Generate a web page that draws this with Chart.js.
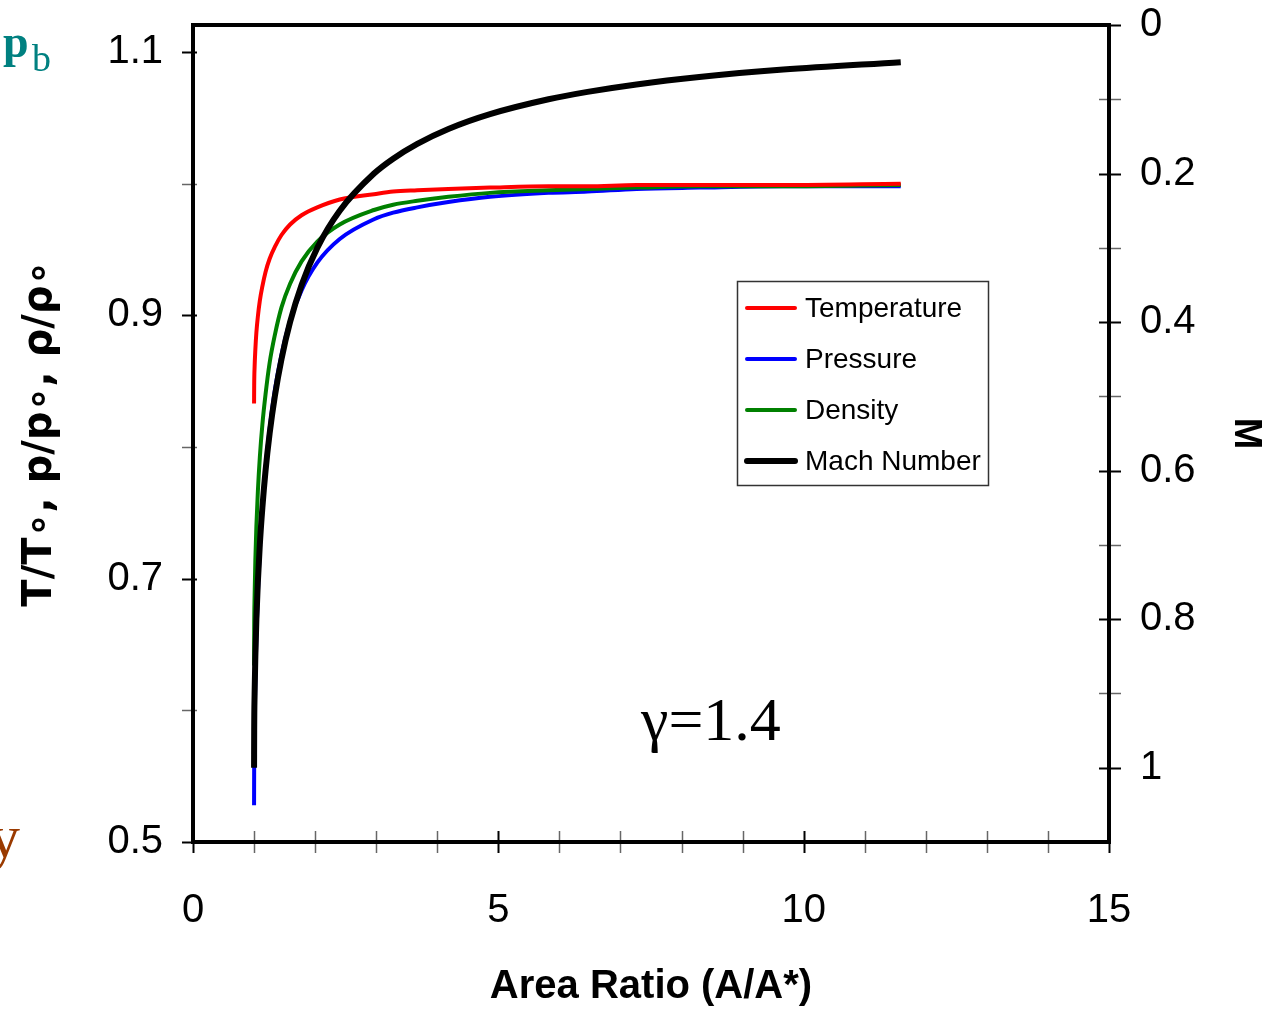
<!DOCTYPE html>
<html>
<head>
<meta charset="utf-8">
<script src="https://cdn.jsdelivr.net/npm/chart.js@4.4.1/dist/chart.umd.min.js"></script>
<style>
  body { margin: 0; background: #fff; }
  canvas { display: block; }
</style>
</head>
<body>
<canvas id="chart" width="1271" height="1011"></canvas>
<script>
// values (subsonic branch, gamma = 1.4)
const areaRatio   = [1.000, 1.002, 1.009, 1.021, 1.038, 1.062, 1.094, 1.136, 1.188, 1.255, 1.340, 1.449, 1.590, 1.778, 2.035, 2.403, 2.964, 3.278, 3.673, 4.182, 4.864, 5.822, 6.461, 7.262, 8.290, 9.666, 11.59];
const machNumber  = [1.00, 0.95, 0.90, 0.85, 0.80, 0.75, 0.70, 0.65, 0.60, 0.55, 0.50, 0.45, 0.40, 0.35, 0.30, 0.25, 0.20, 0.18, 0.16, 0.14, 0.12, 0.10, 0.09, 0.08, 0.07, 0.06, 0.05];
const temperature = [0.833, 0.847, 0.861, 0.874, 0.887, 0.899, 0.911, 0.922, 0.933, 0.943, 0.952, 0.961, 0.969, 0.976, 0.982, 0.988, 0.992, 0.994, 0.995, 0.996, 0.997, 0.998, 0.998, 0.999, 0.999, 0.999, 1.000];
const pressure    = [0.528, 0.560, 0.591, 0.623, 0.656, 0.689, 0.721, 0.753, 0.784, 0.814, 0.843, 0.870, 0.896, 0.919, 0.940, 0.958, 0.973, 0.978, 0.982, 0.986, 0.990, 0.993, 0.994, 0.996, 0.997, 0.998, 0.998];
const density     = [0.634, 0.661, 0.687, 0.714, 0.740, 0.766, 0.792, 0.817, 0.840, 0.864, 0.885, 0.906, 0.924, 0.941, 0.956, 0.969, 0.980, 0.984, 0.987, 0.990, 0.993, 0.995, 0.996, 0.997, 0.998, 0.998, 0.999];

const xTickValues = [0, 1, 2, 3, 4, 5, 6, 7, 8, 9, 10, 11, 12, 13, 14, 15];
const xTickLabels = ['0', '', '', '', '', '5', '', '', '', '', '10', '', '', '', '', '15'];
const leftTickValues = [0.5, 0.6, 0.7, 0.8, 0.9, 1.0, 1.1];
const leftTickLabels = ['0.5', '', '0.7', '', '0.9', '', '1.1'];
const rightTickValues = [0, 0.1, 0.2, 0.3, 0.4, 0.5, 0.6, 0.7, 0.8, 0.9, 1.0];
const rightTickLabels = ['0', '', '0.2', '', '0.4', '', '0.6', '', '0.8', '', '1'];

const FONT = "'Liberation Sans', Arial, sans-serif";
const SERIF = "'Liberation Serif', 'Times New Roman', serif";

function pts(ys) {
  return areaRatio.map((x, i) => ({ x: x, y: ys[i] }));
}

// no extra room for overhanging tick labels: the plot box is fixed
function noPad(s) {
  s.paddingTop = 0; s.paddingBottom = 0; s.paddingLeft = 0; s.paddingRight = 0;
}

// frame, crossing tick marks, legend box and the loose slide texts
const extras = {
  id: 'extras',
  afterDraw(chart) {
    const ctx = chart.ctx;
    const a = chart.chartArea;
    ctx.save();

    // tick marks
    const sx = chart.scales.x, sl = chart.scales.y, sr = chart.scales.yM;
    ctx.lineCap = 'butt';
    sx.ticks.forEach((t, i) => {
      const px = Math.round(sx.getPixelForValue(t.value)) + 0.5;
      const major = xTickLabels[i] !== '';
      ctx.strokeStyle = major ? '#000' : '#666';
      ctx.lineWidth = major ? 2 : 1.5;
      ctx.beginPath(); ctx.moveTo(px, a.bottom - 11); ctx.lineTo(px, a.bottom + 11); ctx.stroke();
    });
    sl.ticks.forEach((t, i) => {
      const py = Math.round(sl.getPixelForValue(t.value)) + 0.5;
      const major = leftTickLabels[i] !== '';
      ctx.strokeStyle = major ? '#000' : '#666';
      ctx.lineWidth = major ? 2 : 1.5;
      ctx.beginPath(); ctx.moveTo(a.left - 11, py); ctx.lineTo(a.left + 4, py); ctx.stroke();
    });
    sr.ticks.forEach((t, i) => {
      const py = Math.round(sr.getPixelForValue(t.value)) + 0.5;
      const major = rightTickLabels[i] !== '';
      ctx.strokeStyle = major ? '#000' : '#666';
      ctx.lineWidth = major ? 2 : 1.5;
      ctx.beginPath(); ctx.moveTo(a.right - 10, py); ctx.lineTo(a.right + 12, py); ctx.stroke();
    });

    // plot frame
    ctx.strokeStyle = '#000';
    ctx.lineWidth = 4;
    ctx.strokeRect(a.left, a.top, a.right - a.left, a.bottom - a.top);

    // legend
    const lx = 737, ly = 281, lw = 251, lh = 204;
    ctx.fillStyle = '#fff';
    ctx.fillRect(lx, ly, lw, lh);
    ctx.strokeStyle = '#333';
    ctx.lineWidth = 1.5;
    ctx.strokeRect(lx + 0.5, ly + 0.5, lw, lh);
    ctx.font = '28px ' + FONT;
    ctx.textBaseline = 'middle';
    ctx.textAlign = 'left';
    chart.data.datasets.forEach((ds, i) => {
      const y = ly + 27 + i * 51;
      ctx.strokeStyle = ds.borderColor;
      ctx.lineWidth = ds.borderWidth;
      ctx.lineCap = 'round';
      ctx.beginPath(); ctx.moveTo(lx + 10, y); ctx.lineTo(lx + 58, y); ctx.stroke();
      ctx.fillStyle = '#000';
      ctx.fillText(ds.label, lx + 68, y + 1);
    });

    // gamma note
    ctx.fillStyle = '#000';
    ctx.textBaseline = 'alphabetic';
    ctx.font = '62px ' + SERIF;
    ctx.fillText('\u03b3=1.4', 641, 740);

    // slide fragments at the left edge
    ctx.fillStyle = '#008080';
    ctx.font = 'bold 46px ' + SERIF;
    ctx.fillText('p', 3, 57);
    ctx.font = '38px ' + SERIF;
    ctx.fillText('b', 32, 71);
    ctx.fillStyle = '#9a3a00';
    ctx.font = '62px ' + SERIF;
    ctx.fillText('y', -11, 857);

    ctx.restore();
  }
};

const chart = new Chart(document.getElementById('chart').getContext('2d'), {
  type: 'line',
  data: {
    datasets: [
      { label: 'Temperature', data: pts(temperature), borderColor: '#ff0000', borderWidth: 4, yAxisID: 'y', order: 1 },
      { label: 'Pressure', data: pts(pressure), borderColor: '#0000ff', borderWidth: 4, yAxisID: 'y', order: 3 },
      { label: 'Density', data: pts(density), borderColor: '#008000', borderWidth: 4, yAxisID: 'y', order: 2 },
      { label: 'Mach Number', data: pts(machNumber), borderColor: '#000000', borderWidth: 6, yAxisID: 'yM', order: 0 }
    ]
  },
  options: {
    responsive: false,
    animation: false,
    layout: { padding: { top: 25, left: 0, right: 0, bottom: 0 } },
    elements: {
      point: { radius: 0 },
      line: { fill: false, cubicInterpolationMode: 'monotone', borderJoinStyle: 'round', borderCapStyle: 'butt' }
    },
    plugins: { legend: { display: false }, tooltip: { enabled: false } },
    scales: {
      x: {
        type: 'linear', min: 0, max: 15,
        afterBuildTicks: s => { s.ticks = xTickValues.map(v => ({ value: v })); },
        afterFit: s => { s.height = 169; noPad(s); },
        grid: { display: false, drawTicks: false },
        border: { display: false },
        ticks: { autoSkip: false, maxRotation: 0, padding: 45, color: '#000', font: { family: FONT, size: 40 },
                 callback: (v, i) => xTickLabels[i] },
        title: { display: true, text: 'Area Ratio (A/A*)', color: '#000', padding: 0,
                 font: { family: FONT, size: 40, weight: 'bold' } }
      },
      y: {
        type: 'linear', position: 'left', min: 0.5, max: 1.1205,
        afterBuildTicks: s => { s.ticks = leftTickValues.map(v => ({ value: v })); },
        afterFit: s => { s.width = 193; noPad(s); },
        grid: { display: false, drawTicks: false },
        border: { display: false },
        ticks: { autoSkip: false, padding: 30, color: '#000', font: { family: FONT, size: 40 },
                 callback: (v, i) => leftTickLabels[i] },
        title: { display: true, text: 'T/T\u2218, p/p\u2218, \u03c1/\u03c1\u2218', color: '#000', padding: { top: 17, bottom: 0 },
                 font: { family: "'DejaVu Sans', Verdana, sans-serif", size: 40, weight: 'bold' } }
      },
      yM: {
        type: 'linear', position: 'right', reverse: true, min: 0, max: 1.1,
        afterBuildTicks: s => { s.ticks = rightTickValues.map(v => ({ value: v })); },
        afterFit: s => { s.width = 162; noPad(s); },
        grid: { display: false, drawTicks: false },
        border: { display: false },
        ticks: { autoSkip: false, padding: 31, color: '#000', font: { family: FONT, size: 40 },
                 callback: (v, i) => rightTickLabels[i] },
        title: { display: true, text: 'M', color: '#000', padding: { top: 3, bottom: 0 },
                 font: { family: FONT, size: 38, weight: 'bold' } }
      }
    }
  },
  plugins: [extras]
});
</script>
</body>
</html>
